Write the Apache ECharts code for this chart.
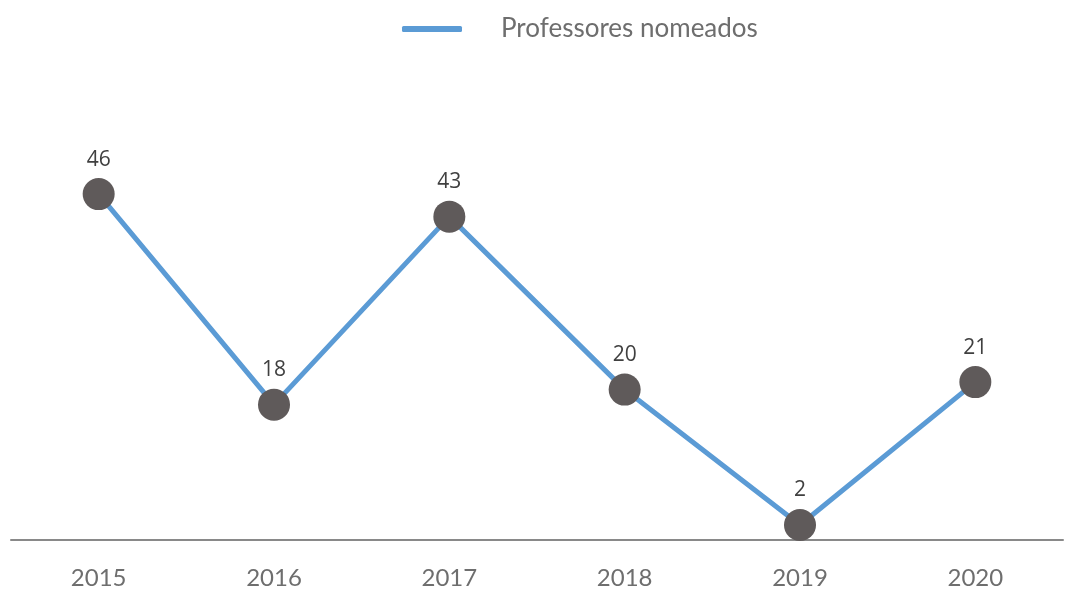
<!DOCTYPE html>
<html>
<head>
<meta charset="utf-8">
<script src="https://cdn.jsdelivr.net/npm/echarts@6/dist/echarts.min.js"></script>
<style>
  html, body { margin: 0; padding: 0; background: #ffffff; }
  #chart { width: 1074px; height: 590px; }
</style>
</head>
<body>
<div id="chart"></div>
<script>
// Appointed professors per year
const years = ['2015', '2016', '2017', '2018', '2019', '2020'];
const nomeados = [46, 18, 43, 20, 2, 21];
const seriesName = 'Professores nomeados';

const chart = echarts.init(document.getElementById('chart'));
chart.setOption({
  animation: false,
  backgroundColor: '#ffffff',
  legend: {
    top: 11,
    left: 397,
    data: [{ name: seriesName, icon: 'roundRect', itemStyle: { color: '#5b9bd5' } }],
    itemWidth: 60,
    itemHeight: 6,
    textStyle: {
      fontFamily: 'Lato',
      fontSize: 26,
      color: '#6e6e6e',
      padding: [0, 0, 0, 34]
    }
  },
  grid: { left: 11, right: 11, top: 164, bottom: 50, containLabel: false },
  xAxis: {
    type: 'category',
    data: years,
    boundaryGap: true,
    axisLine: { show: true, lineStyle: { color: '#898989', width: 2 } },
    axisTick: { show: false },
    axisLabel: {
      margin: 26,
      fontFamily: 'Lato',
      fontSize: 24,
      color: '#6e6e6e'
    }
  },
  yAxis: {
    type: 'value',
    min: 0,
    max: 50,
    show: false,
    splitLine: { show: false }
  },
  series: [{
    name: seriesName,
    type: 'line',
    data: nomeados,
    symbol: 'circle',
    symbolSize: 32,
    lineStyle: { color: '#5b9bd5', width: 5 },
    itemStyle: { color: '#5f5a5a' },
    label: {
      show: true,
      position: 'top',
      distance: 8,
      fontFamily: 'Open Sans',
      fontSize: 21,
      color: '#404040'
    },
    z: 3
  }]
});
</script>
</body>
</html>
